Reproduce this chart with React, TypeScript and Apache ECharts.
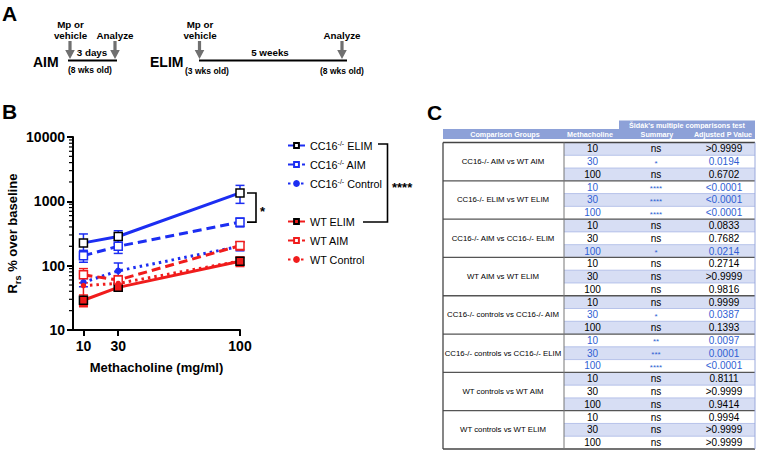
import React, { useEffect, useRef } from "react";
import * as echarts from "echarts";

// ---------- DATA ----------
const doses = [10, 30, 100];
const xTicks = [10, 30, 100];
const yMinorTicks = [20, 30, 40, 50, 60, 70, 80, 90, 200, 300, 400, 500, 600, 700, 800, 900, 2000, 3000, 4000, 5000, 6000, 7000, 8000, 9000];

const seriesNames = ["CC16-/- ELIM", "CC16-/- AIM", "CC16-/- Control", "WT ELIM", "WT AIM", "WT Control"];
const cc16ElimMean = [226, 284, 1350];
const cc16ElimErr = [85, 65, 420];
const cc16AimMean = [143, 200, 475];
const cc16AimErr = [30, 45, 75];
const cc16ControlMean = [55, 83, 200];
const cc16ControlErr = [8, 27, 30];
const wtElimMean = [29, 46, 117];
const wtElimErr = [6, 5, 20];
const wtAimMean = [72, 60, 205];
const wtAimErr = [18, 10, 30];
const wtControlMean = [49, 53, 118];
const wtControlErr = [25, 12, 15];

const tableGroups = [
  "CC16-/- AIM vs WT AIM",
  "CC16-/- ELIM vs WT ELIM",
  "CC16-/- AIM vs CC16-/- ELIM",
  "WT AIM vs WT ELIM",
  "CC16-/- controls vs CC16-/- AIM",
  "CC16-/- controls vs CC16-/- ELIM",
  "WT controls vs WT AIM",
  "WT controls vs WT ELIM",
];
const tableDoses = ["10", "30", "100"];
const tableSummaries = [
  ["ns", "*", "ns"],
  ["****", "****", "****"],
  ["ns", "ns", "*"],
  ["ns", "ns", "ns"],
  ["ns", "*", "ns"],
  ["**", "***", "****"],
  ["ns", "ns", "ns"],
  ["ns", "ns", "ns"],
];
const tablePValues = [
  [">0.9999", "0.0194", "0.6702"],
  ["<0.0001", "<0.0001", "<0.0001"],
  ["0.0833", "0.7682", "0.0214"],
  ["0.2714", ">0.9999", "0.9816"],
  ["0.9999", "0.0387", "0.1393"],
  ["0.0097", "0.0001", "<0.0001"],
  ["0.8111", ">0.9999", "0.9414"],
  ["0.9994", ">0.9999", ">0.9999"],
];

// ---------- STYLE ----------
const FONT = "'Liberation Sans', Arial, Helvetica, sans-serif";
const BLUE = "#1c2ef2";
const RED = "#f01c1c";
const HEADER = "#8da1d8";
const ROWBLUE = "#d7def4";
const SIGBLUE = "#2f5fd3";
const X_MIN = 4;

function txt(text: string, x: number, y: number, opts: any = {}) {
  return {
    type: "text",
    silent: true,
    style: {
      text,
      x,
      y,
      fill: opts.fill || "#000",
      fontSize: opts.fontSize || 10,
      fontWeight: opts.fontWeight || "normal",
      fontFamily: FONT,
      textAlign: opts.align || "center",
      textVerticalAlign: "middle",
    },
  };
}
function ln(x1: number, y1: number, x2: number, y2: number, stroke = "#000", lineWidth = 1) {
  return { type: "line", silent: true, shape: { x1, y1, x2, y2 }, style: { stroke, lineWidth } };
}
function arrow(cx: number, y0: number, y1: number) {
  const yh = y1 - 9;
  return {
    type: "polygon",
    silent: true,
    shape: {
      points: [
        [cx - 1.6, y0], [cx + 1.6, y0], [cx + 1.6, yh], [cx + 4.8, yh], [cx, y1], [cx - 4.8, yh], [cx - 1.6, yh],
      ],
    },
    style: { fill: "#707070" },
  };
}

function panelA(): any[] {
  const b = { fontWeight: "bold", fontSize: 9.8 };
  const p = { fontWeight: "bold", fontSize: 8.5 };
  return [
    txt("A", 2, 13, { fontWeight: "bold", fontSize: 21, align: "left" }),
    txt("AIM", 33, 62, { fontWeight: "bold", fontSize: 14, align: "left" }),
    ln(68, 60.5, 117, 60.5, "#000", 2),
    arrow(70, 41, 59),
    arrow(115, 41, 59),
    txt("Mp or", 70.5, 24, b),
    txt("vehicle", 70.5, 35.5, b),
    txt("Analyze", 115, 35.5, b),
    txt("3 days", 92, 52.5, b),
    txt("(8 wks old)", 90, 69.5, p),
    txt("ELIM", 150, 62, { fontWeight: "bold", fontSize: 14, align: "left" }),
    ln(199, 60.5, 347, 60.5, "#000", 2),
    arrow(199.5, 41, 59),
    arrow(342, 41, 59),
    txt("Mp or", 200, 24, b),
    txt("vehicle", 200, 35.5, b),
    txt("5 weeks", 270, 52.5, b),
    txt("Analyze", 342, 35.5, b),
    txt("(3 wks old)", 207, 70.5, p),
    txt("(8 wks old)", 342, 70.5, p),
    txt("B", 2, 111, { fontWeight: "bold", fontSize: 21, align: "left" }),
    txt("C", 427, 112, { fontWeight: "bold", fontSize: 21, align: "left" }),
    // significance bracket between legend groups
    {
      type: "polyline",
      silent: true,
      shape: { points: [[378, 144], [387.5, 144], [387.5, 222], [363, 222]] },
      style: { stroke: "#000", lineWidth: 1.6, fill: null },
    },
    txt("****", 392, 187, { fontWeight: "bold", fontSize: 13, align: "left" }),
  ];
}

function panelC(): any[] {
  const els: any[] = [];
  const L = 443, D = 564, R = 755;
  const bodyTop = 142.5;
  const rowH = 12.77;
  const cDose = 592.5, cSum = 656, cP = 724;
  const hb = { fill: "#fff", fontWeight: "bold", fontSize: 7.2 };
  els.push({ type: "rect", silent: true, shape: { x: 619, y: 120.5, width: R - 619, height: 8.5 }, style: { fill: HEADER } });
  els.push(txt("Šidák's multiple comparisons test", 687, 125, hb));
  els.push({ type: "rect", silent: true, shape: { x: L, y: 129, width: R - L, height: 10 }, style: { fill: HEADER } });
  els.push(txt("Comparison Groups", 505, 134.2, hb));
  els.push(txt("Methacholine", 590, 134.2, hb));
  els.push(txt("Summary", 657, 134.2, hb));
  els.push(txt("Adjusted P Value", 723, 134.2, hb));
  const nRows = tableGroups.length * 3;
  for (let i = 0; i < nRows; i++) {
    const y = bodyTop + i * rowH;
    if (i % 2 === 0) {
      els.push({ type: "rect", silent: true, shape: { x: D, y, width: R - D, height: rowH }, style: { fill: ROWBLUE } });
    }
    if (i % 3 !== 0) els.push(ln(D, y, R, y, "#a9b8e6", 0.8));
  }
  tableGroups.forEach((g, gi) => {
    const gy = bodyTop + gi * 3 * rowH;
    els.push(txt(g, 503, gy + 1.5 * rowH, { fontSize: 7.8 }));
    for (let r = 0; r < 3; r++) {
      const y = gy + (r + 0.5) * rowH;
      const sig = tableSummaries[gi][r] !== "ns";
      const col = sig ? SIGBLUE : "#000";
      els.push(txt(tableDoses[r], cDose, y, { fontSize: 10, fill: col }));
      els.push(txt(tableSummaries[gi][r], cSum, sig ? y + 1.5 : y, { fontSize: sig ? 8 : 10, fill: col }));
      els.push(txt(tablePValues[gi][r], cP, y, { fontSize: 10, fill: col }));
    }
    if (gi > 0) els.push(ln(L, gy, R, gy, "#555", 1.3));
  });
  const bottom = bodyTop + nRows * rowH;
  els.push(ln(L, bodyTop, R, bodyTop, "#444", 1.3));
  els.push(ln(L, bottom, R, bottom, "#444", 1.3));
  els.push(ln(L, bodyTop, L, bottom, "#444", 1.3));
  els.push(ln(D, bodyTop, D, bottom, "#777", 1));
  els.push(ln(R, bodyTop, R, bottom, "#9aa9dc", 1));
  return els;
}

const legendRich = {
  n: { fontSize: 10.8, fontFamily: FONT, color: "#000" },
  s: { fontSize: 7, fontFamily: FONT, color: "#000", verticalAlign: "top", lineHeight: 10 },
};
function legendFormatter(name: string) {
  const [a, b] = name.split("-/-");
  if (b === undefined) return `{n|${name}}`;
  return `{n|${a}}{s|-/-}{n|${b}}`;
}

function makeLine(name: string, means: number[], color: string, dash: any, symbol: string, fill: string, border: string, size: number, width: number) {
  return {
    type: "line",
    name,
    data: doses.map((d, i) => [d, means[i]]),
    symbol,
    symbolSize: size,
    showAllSymbol: true,
    z: 3,
    itemStyle: { color: fill, borderColor: border, borderWidth: 1.5 },
    lineStyle: { color, width, type: dash },
    emphasis: { disabled: true },
  };
}
function makeErr(means: number[], errs: number[], color: string) {
  return {
    type: "custom",
    name: "err",
    z: 2,
    silent: true,
    data: doses.map((d, i) => [d, means[i], errs[i]]),
    encode: { x: 0, y: 1 },
    renderItem: (params: any, api: any) => {
      const x = api.value(0), m = api.value(1), e = api.value(2);
      const top = api.coord([x, m + e]);
      const bot = api.coord([x, Math.max(m - e, 10.01)]);
      const st = { stroke: color, lineWidth: 1.5 };
      return {
        type: "group",
        children: [
          { type: "line", shape: { x1: top[0], y1: top[1], x2: bot[0], y2: bot[1] }, style: st },
          { type: "line", shape: { x1: top[0] - 4.5, y1: top[1], x2: top[0] + 4.5, y2: top[1] }, style: st },
          { type: "line", shape: { x1: bot[0] - 4.5, y1: bot[1], x2: bot[0] + 4.5, y2: bot[1] }, style: st },
        ],
      };
    },
  };
}

export default function App() {
  const ref = useRef<HTMLDivElement>(null);
  useEffect(() => {
    document.body.style.margin = "0";
    if (!ref.current) return;
    const chart = echarts.init(ref.current, null, { renderer: "svg" });
    const lines = [
      makeLine(seriesNames[0], cc16ElimMean, BLUE, "solid", "rect", "#fff", "#000", 8, 3),
      makeLine(seriesNames[1], cc16AimMean, BLUE, [9, 5], "rect", "#fff", BLUE, 8, 3),
      makeLine(seriesNames[2], cc16ControlMean, BLUE, [2.5, 4], "circle", BLUE, BLUE, 5, 3),
      makeLine(seriesNames[3], wtElimMean, RED, "solid", "rect", RED, "#000", 8, 3),
      makeLine(seriesNames[4], wtAimMean, RED, [9, 5], "rect", "#fff", RED, 8, 3),
      makeLine(seriesNames[5], wtControlMean, RED, [2.5, 4], "circle", RED, RED, 4, 3),
    ];
    const errs = [
      makeErr(cc16ElimMean, cc16ElimErr, BLUE),
      makeErr(cc16AimMean, cc16AimErr, BLUE),
      makeErr(cc16ControlMean, cc16ControlErr, BLUE),
      makeErr(wtElimMean, wtElimErr, RED),
      makeErr(wtAimMean, wtAimErr, RED),
      makeErr(wtControlMean, wtControlErr, RED),
    ];
    const minorTicks = {
      type: "custom",
      name: "minor",
      silent: true,
      data: yMinorTicks.map((v) => [X_MIN, v]),
      encode: { x: 0, y: 1 },
      renderItem: (params: any, api: any) => {
        const p = api.coord([api.value(0), api.value(1)]);
        return { type: "line", shape: { x1: p[0] - 4, y1: p[1], x2: p[0], y2: p[1] }, style: { stroke: "#000", lineWidth: 1.2 } };
      },
    };
    const bracket = {
      type: "custom",
      name: "bracket",
      silent: true,
      data: [[doses[2], cc16ElimMean[2], cc16AimMean[2]]],
      encode: { x: 0, y: 1 },
      renderItem: (params: any, api: any) => {
        const a = api.coord([api.value(0), api.value(1)]);
        const b = api.coord([api.value(0), api.value(2)]);
        const x0 = a[0] + 7, x1 = a[0] + 16;
        return {
          type: "group",
          children: [
            { type: "polyline", shape: { points: [[x0, a[1]], [x1, a[1]], [x1, b[1]], [x0, b[1]]] }, style: { stroke: "#000", lineWidth: 1.6, fill: null } },
            { type: "text", style: { text: "*", x: x1 + 4, y: (a[1] + b[1]) / 2 + 4, fontSize: 13, fontWeight: "bold", fontFamily: FONT, fill: "#000", textVerticalAlign: "middle" } },
          ],
        };
      },
    };
    const axisText = { color: "#000", fontSize: 14, fontWeight: "bold", fontFamily: FONT };
    const legendBase = {
      orient: "vertical",
      left: 282,
      itemWidth: 17,
      itemHeight: 6,
      itemGap: 8,
      selectedMode: false,
      formatter: legendFormatter,
      textStyle: { rich: legendRich, fontSize: 10.8, fontFamily: FONT, color: "#000" },
    };
    const option: any = {
      animation: false,
      textStyle: { fontFamily: FONT },
      grid: { left: 73, top: 137, width: 167, height: 193, containLabel: false, outerBoundsMode: "none" },
      xAxis: {
        type: "value",
        min: X_MIN,
        max: 100,
        axisLine: { show: true, onZero: false, lineStyle: { color: "#000", width: 2 } },
        axisTick: { show: true, customValues: xTicks, length: 6, lineStyle: { color: "#000", width: 2 } },
        axisLabel: { show: true, customValues: xTicks, margin: 9, ...axisText },
        splitLine: { show: false },
        name: "Methacholine (mg/ml)",
        nameLocation: "middle",
        nameGap: 31,
        nameTextStyle: { color: "#000", fontSize: 13, fontWeight: "bold", fontFamily: FONT },
      },
      yAxis: {
        type: "log",
        logBase: 10,
        min: 10,
        max: 10000,
        axisLine: { show: true, lineStyle: { color: "#000", width: 2 } },
        axisTick: { show: true, length: 6, lineStyle: { color: "#000", width: 2 } },
        axisLabel: { show: true, margin: 8, formatter: (v: number) => String(Math.round(v)), ...axisText },
        splitLine: { show: false },
        minorTick: { show: false },
        name: "{r|R}{s|rs}{r| % over baseline}",
        nameLocation: "middle",
        nameGap: 50,
        nameRotate: 90,
        nameTextStyle: {
          rich: {
            r: { fontSize: 13, fontWeight: "bold", fontFamily: FONT, color: "#000" },
            s: { fontSize: 9, fontWeight: "bold", fontFamily: FONT, color: "#000", verticalAlign: "bottom", lineHeight: 20 },
          },
        },
      },
      legend: [
        { ...legendBase, data: seriesNames.slice(0, 3), top: 135 },
        { ...legendBase, data: seriesNames.slice(3), top: 211 },
      ],
      series: [minorTicks, ...errs, ...lines, bracket],
      graphic: [...panelA(), ...panelC()],
    };
    chart.setOption(option);
    return () => chart.dispose();
  }, []);
  return <div ref={ref} style={{ width: 760, height: 450 }} />;
}
